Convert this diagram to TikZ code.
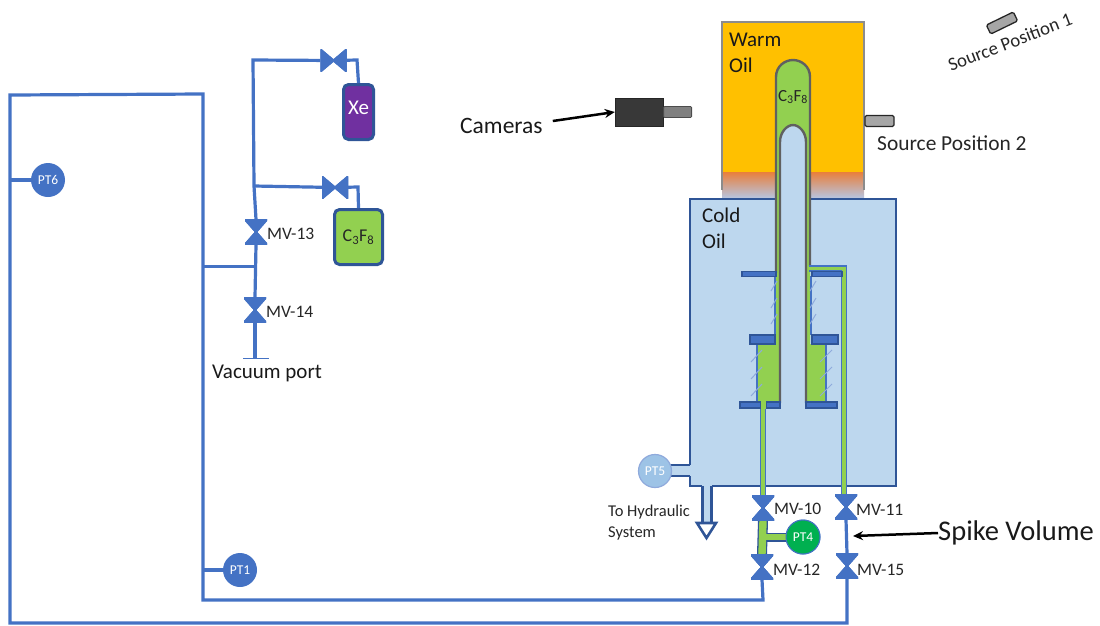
\documentclass[tikz,border=0pt]{standalone}
\usepackage{fontspec}
\setmainfont{Carlito}
\usetikzlibrary{arrows.meta}
\definecolor{pipeblue}{HTML}{4472C4}
\definecolor{darkblue}{HTML}{2F5597}
\definecolor{coldoil}{HTML}{BDD7EE}
\definecolor{warmoil}{HTML}{FFC000}
\definecolor{gasgreen}{HTML}{92D050}
\definecolor{wallgray}{HTML}{606060}
\definecolor{hatchblue}{HTML}{8FAADC}
\definecolor{xepurple}{HTML}{7030A0}
\definecolor{ptgreen}{HTML}{00B050}
\definecolor{ptlight}{HTML}{9DC3E6}
\definecolor{fadeorange}{HTML}{E97F3B}
\definecolor{fadeblue}{HTML}{B4C7E7}
\newcommand{\fs}[2]{\fontsize{#1}{#2}\selectfont}
\tikzset{
  x=1pt,y=-1pt,
  pipe/.style={draw=pipeblue,line width=3.2pt},
  vvalve/.style={inner sep=0pt,minimum width=22pt,minimum height=25pt,
    path picture={\filldraw[pipeblue,line width=2pt] (path picture bounding box.north west) -- (path picture bounding box.north east) -- (path picture bounding box.south west) -- (path picture bounding box.south east) -- cycle;}},
  hvalve/.style={inner sep=0pt,minimum width=26pt,minimum height=22pt,
    path picture={\filldraw[pipeblue,line width=2pt] (path picture bounding box.north west) -- (path picture bounding box.south west) -- (path picture bounding box.north east) -- (path picture bounding box.south east) -- cycle;}},
  sensor/.style={circle,inner sep=0pt,minimum size=34pt,text=white,font=\fs{13.5}{15}},
  label/.style={inner sep=0pt,anchor=west,text=black!85,font=\fs{17.5}{19}},
  big/.style={inner sep=0pt,anchor=west,align=left,text=black!90,font=\fs{21}{26}},
  flange/.style={fill=pipeblue,draw=darkblue,line width=1.6pt},
  hatch/.style={draw=hatchblue,line width=1pt},
  greenpipe/.style={draw=pipeblue,line width=6.5pt},
  greencore/.style={draw=gasgreen,line width=3.2pt},
  tank/.style={draw=darkblue,line width=3pt,rounded corners=5pt,inner sep=0pt},
  source/.style={draw=black!85,fill=black!35,line width=1.3pt,rounded corners=1.5pt,inner sep=0pt},
  callout/.style={draw=black,line width=2.5pt,-{Stealth[length=10pt,width=9pt]}},
}
\begin{document}
\begin{tikzpicture}
\useasboundingbox (0,0) rectangle (1100,625);

% warm oil bath
\fill[warmoil] (722,22) rectangle (864,172);
\shade[top color=fadeorange,bottom color=fadeblue,middle color=fadeorange!50!fadeblue] (722,172) rectangle (864,199);
\draw[draw=black!45,line width=2.4pt] (722,190) -- (722,22) -- (864,22) -- (864,190);

% cold oil bath
\fill[coldoil] (690,199) rectangle (896,486);
\draw[draw=darkblue,line width=1.8pt] (690,465) -- (690,199) -- (896,199) -- (896,486) -- (712,486);
\draw[draw=darkblue,line width=1.8pt] (702,486) -- (690,486) -- (690,476);

% source tube (outer)
\fill[gasgreen] (776,344) -- (776,77) .. controls (776,66) and (785,60) .. (793,60) .. controls (801,60) and (810,66) .. (810,77) -- (810,344) -- cycle;
\fill[coldoil] (781,277) rectangle (805,335);
\draw[draw=wallgray,line width=2.4pt] (776,273) -- (776,77) .. controls (776,66) and (785,60) .. (793,60) .. controls (801,60) and (810,66) .. (810,77) -- (810,266);

% lower cylinders
\fill[gasgreen] (757,344) rectangle (780,401);
\fill[gasgreen] (806,344) rectangle (826,401);
\draw[draw=pipeblue,line width=1.6pt] (757,344) -- (757,401);
\draw[draw=pipeblue,line width=1.6pt] (826,344) -- (826,401);
\draw[draw=pipeblue,line width=1.6pt] (775,277) -- (775,335);
\draw[draw=pipeblue,line width=1.6pt] (811,276) -- (811,335);

% hatching
\foreach \y in {0,17,33}{
  \draw[hatch] (771,291+\y) -- (777,281+\y);
  \draw[hatch] (810,291+\y) -- (816,281+\y);
}
\foreach \y in {0,17,34}{
  \draw[hatch] (751,362+\y) -- (762,350+\y);
  \draw[hatch] (820,362+\y) -- (832,350+\y);
}

% source tube (inner)
\fill[coldoil] (780,403) -- (780,142) .. controls (780,132) and (787,125) .. (793,125) .. controls (799,125) and (806,132) .. (806,142) -- (806,403) -- cycle;
\draw[draw=wallgray,line width=2.4pt] (780,403) -- (780,142) .. controls (780,132) and (787,125) .. (793,125) .. controls (799,125) and (806,132) .. (806,142) -- (806,403);

% pipes of the source tube
\coordinate (tl) at (763,401);
\coordinate (tr) at (809,268.5);
\coordinate (trc) at (844,268.5);
\node[vvalve] (mv10) at (763,508) {};
\node[vvalve] (mv12) at (762,567) {};
\node[vvalve] (mv11) at (846,507) {};
\node[vvalve] (mv15) at (847,566) {};
\coordinate (mv11top) at (844,496);
\draw[greenpipe] (tl) -- (mv10.north);
\draw[greencore] (tl) -- (mv10.north);
\draw[greenpipe] (tr) -- (trc) -- (mv11top);
\draw[greencore] (tr) -- (trc) -- (mv11top);

% flanges
\draw[flange] (742,271.5) rectangle (776,276.5);
\draw[flange] (812,271.5) rectangle (842,276.5);
\draw[flange] (750,335) rectangle (775,344);
\draw[flange] (812,335) rectangle (838,344);
\draw[flange] (740,402) rectangle (761,408);
\draw[flange] (766,402) rectangle (780,408);
\draw[flange] (806,402) rectangle (837,408);
\fill[gasgreen] (761,400) rectangle (766,409);

% redraw valves over the pipes
\node[vvalve] at (mv10) {};
\node[vvalve] at (mv11) {};

% PT4 tee
\node[sensor,fill=ptgreen,draw=pipeblue,line width=1pt] (pt4) at (803,537) {PT4};
\coordinate (tee) at (762.5,537);
\draw[draw=darkblue,line width=10pt] (mv10.south) -- (mv12.north);
\draw[draw=darkblue,line width=9pt] (tee) -- (pt4);
\draw[draw=gasgreen,line width=7.4pt] (mv10.south) -- (mv12.north);
\draw[draw=gasgreen,line width=6.6pt] (tee) -- (pt4);
\node[sensor,fill=ptgreen,draw=pipeblue,line width=1pt] at (pt4) {PT4};
\node[vvalve] at (mv10) {};
\node[vvalve] at (mv12) {};

% spike volume and return lines
\draw[pipe] (mv11.south) -- (mv15.north);
\coordinate (b1) at (763,600);
\coordinate (b2) at (203,600);
\coordinate (b3) at (203,94);
\coordinate (b4) at (10,95);
\coordinate (b5) at (10,623);
\coordinate (b6) at (847,623);
\draw[pipe] (mv12.south) -- (b1) -- (b2) -- (b3) -- (b4) -- (b5) -- (b6) -- (mv15.south);
\node[vvalve] at (mv15) {};
\node[vvalve] at (mv12) {};
\node[vvalve] at (mv11) {};

% sensors on the manifold
\node[sensor,fill=pipeblue] (pt1) at (240,570) {PT1};
\node[sensor,fill=pipeblue] (pt6) at (48,180) {PT6};
\coordinate (j1) at (203,570);
\coordinate (j6) at (10,180);
\draw[pipe] (j1) -- (pt1);
\draw[pipe] (j6) -- (pt6);

% gas bottles
\node[tank,fill=xepurple,minimum width=30pt,minimum height=55pt] (xe) at (358.5,112) {};
\node[inner sep=0pt,text=white,font=\fs{21}{23}] (xet) at (358.5,108) {Xe};
\node[tank,fill=gasgreen,minimum width=48pt,minimum height=55pt,font=\fs{18}{20},text=black!85] (c3f8) at (358.5,237) {C\textsubscript{3}F\textsubscript{8}};
\node[hvalve] (vxe) at (333.5,60.5) {};
\node[hvalve] (vc3) at (335,187.5) {};
\node[vvalve] (mv13) at (256,232) {};
\node[vvalve] (mv14) at (255,310) {};
\coordinate (top) at (253,60);
\coordinate (jc3) at (254,186);
\coordinate (jb) at (255,266.5);
\coordinate (jb0) at (203,266.5);
\coordinate (vac) at (255,358);
\coordinate (xec) at (357,60);
\coordinate (c3c) at (358,187);
\draw[pipe] (mv13.north) -- (jc3) -- (top) -- (vxe);
\draw[pipe] (vxe) -- (xec) -- (xe.north);
\draw[pipe] (jc3) -- (vc3);
\draw[pipe] (vc3) -- (c3c) -- (c3f8.north);
\draw[pipe] (mv13.south) -- (mv14.north);
\draw[pipe] (jb0) -- (jb);
\draw[pipe] (mv14.south) -- (vac);
\coordinate (vacl) at (243,358.5);
\coordinate (vacr) at (269,358.5);
\draw[draw=pipeblue,line width=1pt] (vacl) -- (vacr);
\node[vvalve] at (mv13) {};
\node[vvalve] at (mv14) {};
\node[hvalve] at (vxe) {};
\node[hvalve] at (vc3) {};

% PT5 and hydraulic outlet
\coordinate (p5a) at (690,465);
\coordinate (p5b) at (690,476);
\coordinate (p5c) at (668,465);
\coordinate (p5d) at (668,476);
\fill[coldoil] (668,466) rectangle (692,475.5);
\draw[draw=darkblue,line width=1.8pt] (p5c) -- (p5a);
\draw[draw=darkblue,line width=1.8pt] (p5d) -- (p5b);
\node[sensor,fill=ptlight,draw=hatchblue,line width=1.2pt,minimum size=33pt] (pt5) at (655,471) {PT5};
\node[inner sep=0pt,minimum size=0pt] (hyd) at (706.5,538) {};
\fill[coldoil] (702,485) rectangle (712,523);
\draw[draw=darkblue,line width=2.4pt] (702.5,486) -- (702.5,523);
\draw[draw=darkblue,line width=2.4pt] (711.5,486) -- (711.5,523);
\draw[draw=darkblue,line width=2.6pt,fill=white,line join=miter] (697,523) -- (716,523) -- (hyd.center) -- cycle;

% cameras
\node[fill=black!78,draw=black!85,minimum width=48pt,minimum height=28pt,inner sep=0pt] (cam) at (639,112) {};
\node[fill=black!50,draw=black!70,line width=.8pt,minimum width=28pt,minimum height=11pt,inner sep=0pt,anchor=west,rounded corners=1pt] (lens) at (cam.east) {};
\node[big,font=\fs{23.5}{25}] (camt) at (460,126) {Cameras};
\draw[callout] (camt.east)++(10,-5) -- (cam.west);

% sources
\node[source,minimum width=29pt,minimum height=11pt] (s2) at (879.5,121) {};
\node[source,minimum width=30pt,minimum height=10pt,rotate=26] (s1) at (1002,23) {};
\node[inner sep=0pt,font=\fs{21.4}{23},text=black!85,anchor=west] (s2t) at (877,143) {Source Position 2};
\node[inner sep=0pt,font=\fs{18.8}{21},text=black!85,rotate=21] (s1t) at (1010,42) {Source Position 1};

% spike volume
\node[big,font=\fs{28.5}{30}] (spike) at (938,533) {Spike Volume};
\coordinate (spk) at (853,536);
\draw[callout] (spike.west) -- (spk);

% labels
\node[big] (warm) at (729,53) {Warm\\Oil};
\node[big] (cold) at (702,228) {Cold\\Oil};
\node[inner sep=0pt,font=\fs{17}{19},text=black!85] (tube) at (793,97) {C\textsubscript{3}F\textsubscript{8}};
\node[label] (l10) at (774,509) {MV-10};
\node[label] (l12) at (773,570) {MV-12};
\node[label] (l11) at (856,510) {MV-11};
\node[label] (l15) at (857,570) {MV-15};
\node[label] (l13) at (267,234) {MV-13};
\node[label] (l14) at (266,312) {MV-14};
\node[big] (vp) at (212,373) {Vacuum port};
\node[inner sep=0pt,anchor=west,align=left,text=black!85,font=\fs{16.5}{21}] (hy) at (608,522.5) {To Hydraulic\\System};
\end{tikzpicture}
\end{document}
